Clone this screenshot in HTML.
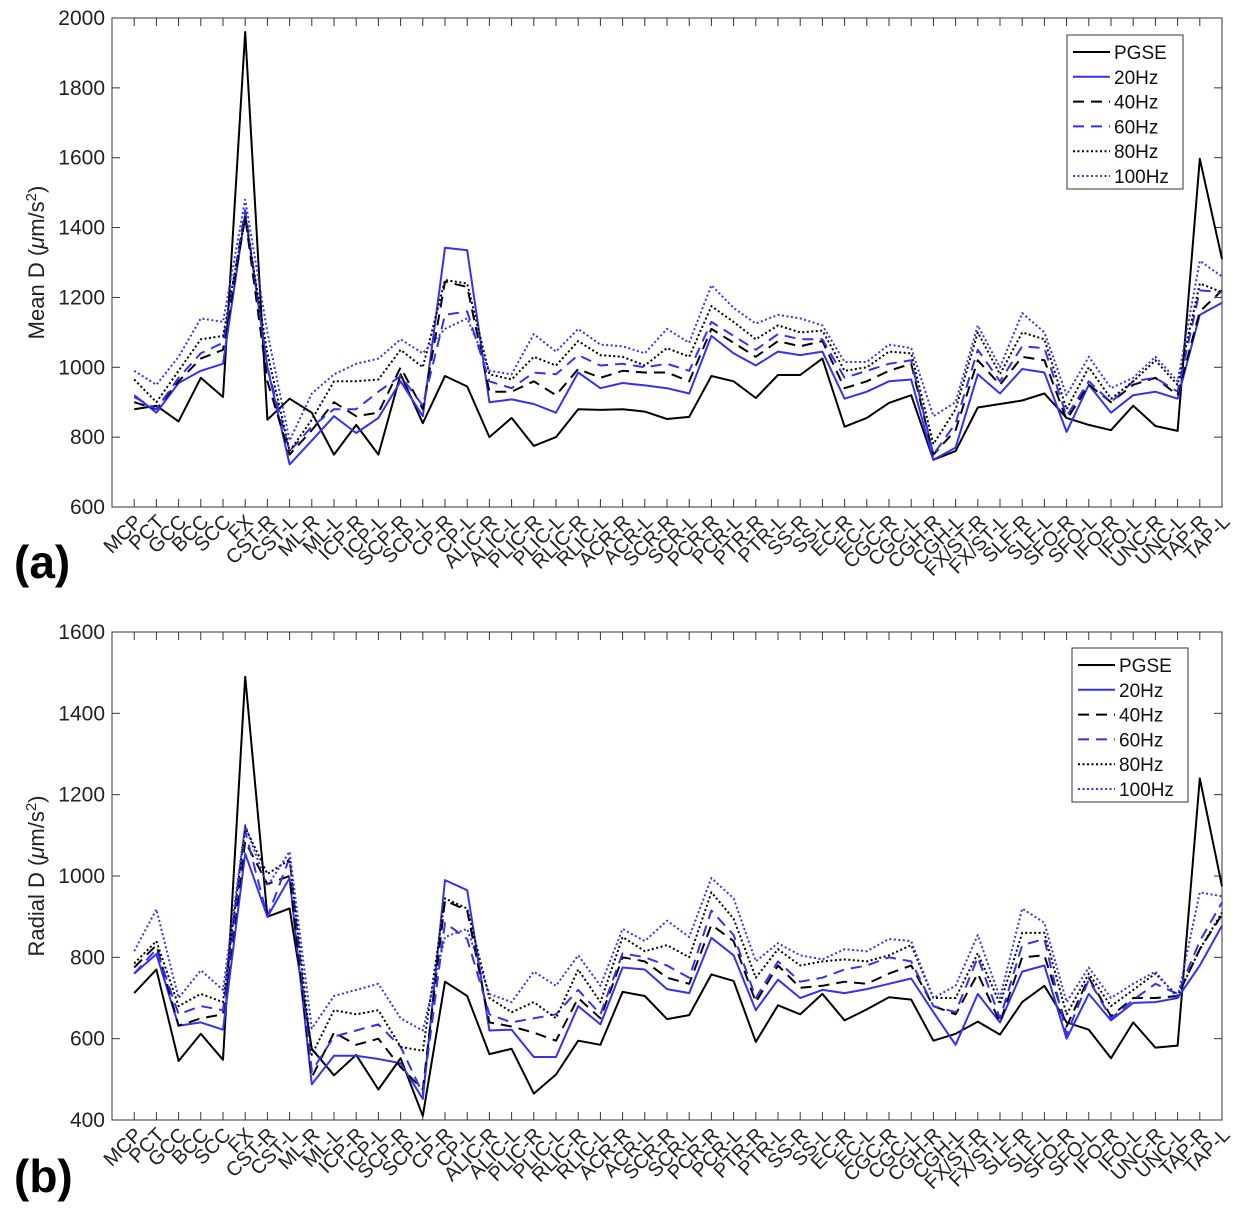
<!DOCTYPE html>
<html><head><meta charset="utf-8"><style>
body{margin:0;background:#fff;}
svg{display:block;font-family:"Liberation Sans",sans-serif;}
</style></head><body>
<svg id="chart" width="1248" height="1212" viewBox="0 0 1248 1212"></svg>
<script>
const categories=["MCP","PCT","GCC","BCC","SCC","FX","CST-R","CST-L","ML-R","ML-L","ICP-R","ICP-L","SCP-R","SCP-L","CP-R","CP-L","ALIC-R","ALIC-L","PLIC-R","PLIC-L","RLIC-R","RLIC-L","ACR-R","ACR-L","SCR-R","SCR-L","PCR-R","PCR-L","PTR-R","PTR-L","SS-R","SS-L","EC-R","EC-L","CGC-R","CGC-L","CGH-R","CGH-L","FX/ST-R","FX/ST-L","SLF-R","SLF-L","SFO-R","SFO-L","IFO-R","IFO-L","UNC-R","UNC-L","TAP-R","TAP-L"];
const seriesNames=["PGSE","20Hz","40Hz","60Hz","80Hz","100Hz"];
const ticksA=[600,800,1000,1200,1400,1600,1800,2000];
const ticksB=[400,600,800,1000,1200,1400,1600];
const meanPGSE=[880,890,845,970,915,1960,850,910,870,750,835,750,980,840,975,945,800,855,775,800,880,878,880,873,852,858,975,960,912,978,978,1025,830,855,898,920,735,760,885,895,905,925,855,835,820,890,832,818,1597,1310];
const mean20=[920,870,955,990,1010,1440,1000,722,790,860,812,855,960,860,1342,1335,900,908,895,870,985,940,955,948,940,925,1090,1040,1005,1045,1035,1045,910,930,960,965,735,770,980,925,995,985,815,950,870,920,930,910,1150,1185];
const mean40=[900,880,960,1025,1050,1430,960,750,820,900,860,870,1000,880,1245,1230,930,930,960,920,995,970,990,985,985,960,1110,1070,1030,1075,1060,1075,940,960,990,1010,750,820,1020,950,1030,1020,850,950,900,950,970,920,1160,1220];
const mean60=[915,880,970,1040,1070,1450,1000,760,830,880,880,930,975,890,1150,1160,960,940,985,980,1035,1005,1010,1000,1010,990,1130,1090,1050,1095,1080,1080,970,990,1010,1020,750,840,1050,960,1060,1055,860,960,900,960,970,930,1220,1215];
const mean80=[965,900,990,1080,1090,1430,1040,760,850,960,960,965,1050,1000,1250,1240,980,965,1030,1005,1075,1035,1030,1005,1055,1030,1175,1130,1080,1120,1100,1105,990,1000,1045,1040,780,880,1100,980,1100,1080,880,1000,910,960,1020,950,1240,1215];
const mean100=[990,950,1030,1140,1130,1480,1100,790,925,980,1010,1025,1080,1040,1110,1140,990,980,1095,1045,1110,1065,1060,1040,1110,1070,1235,1170,1125,1150,1140,1120,1015,1015,1065,1055,860,900,1120,1000,1155,1100,920,1030,940,970,1030,960,1305,1260];
const radPGSE=[712,770,545,612,548,1490,900,920,575,510,560,475,552,410,740,705,562,575,465,512,595,585,715,705,648,658,758,742,592,682,660,710,645,672,702,696,595,612,642,610,690,730,640,622,552,640,578,583,1240,975];
const rad20=[760,808,632,640,622,1055,900,995,488,558,558,550,540,452,990,965,620,622,555,555,680,635,775,770,722,712,848,805,670,745,700,720,712,722,735,748,665,585,710,640,765,780,600,710,645,688,690,700,780,878];
const rad40=[775,830,632,650,660,1085,980,1000,505,615,585,600,530,475,940,915,640,630,615,595,700,650,800,790,750,735,880,840,690,780,725,730,740,735,760,780,680,660,760,640,800,805,630,750,655,700,700,705,820,905];
const rad60=[760,820,660,680,670,1110,900,1045,520,605,620,635,580,465,885,845,660,640,650,660,720,660,810,800,780,750,915,855,700,790,740,750,770,780,800,790,680,665,800,650,830,845,610,745,650,695,735,710,840,935];
const rad80=[785,840,680,710,690,1120,1005,1040,560,670,660,670,580,570,945,920,700,665,690,650,770,690,850,815,830,800,960,895,750,820,780,790,795,790,805,830,700,700,810,685,860,860,660,760,680,720,760,705,820,910];
const rad100=[815,918,700,768,720,1125,975,1060,625,705,720,735,650,620,850,870,710,690,765,730,805,730,870,840,890,850,995,945,790,835,805,795,820,815,845,840,700,730,855,700,920,885,690,775,700,735,765,700,960,950];

const NS="http://www.w3.org/2000/svg";
const svg=document.getElementById('chart');
const BLUE="#3232f0";
const styles=[{c:"#000",d:""},{c:BLUE,d:""},{c:"#000",d:"11,7"},{c:BLUE,d:"11,7"},{c:"#000",d:"2,2.5"},{c:BLUE,d:"2,2.5"}];
function mk(tag,attrs,parent){const e=document.createElementNS(NS,tag);for(const k in attrs)e.setAttribute(k,attrs[k]);(parent||svg).appendChild(e);return e;}

function panel(p){
  const g=mk('g',{});
  
  
  const L=112,R=1222,T=p.top,B=p.bottom;
  const xS=i=>L+(i+1)*(R-L)/(categories.length);
  const yS=v=>B-(v-p.min)/(p.max-p.min)*(B-T);
  const box=mk('rect',{x:L,y:T,width:R-L,height:B-T,fill:'none',stroke:'#333','stroke-width':1},g);
  
  
  p.ticks.forEach(t=>{
    const y=yS(t);
    mk('line',{x1:L,x2:L+8,y1:y,y2:y,stroke:'#333'},g);
    mk('line',{x1:R,x2:R-8,y1:y,y2:y,stroke:'#333'},g);
    const tx=mk('text',{x:L-7,y:y+7,'text-anchor':'end','font-size':21,fill:'#222'},g);
    tx.textContent=t;
    
    
  });
  categories.forEach((c,i)=>{
    const x=xS(i);
    mk('line',{x1:x,x2:x,y1:B,y2:B-8,stroke:'#333'},g);
    mk('line',{x1:x,x2:x,y1:T,y2:T+8,stroke:'#333'},g);
    const tx=mk('text',{x:x+9,y:B+16,'text-anchor':'end','font-size':20,fill:'#222',transform:`rotate(-45 ${x+9} ${B+16})`},g);
    tx.textContent=c;
    
    
  });
  p.series.forEach((s,k)=>{
    const pts=s.map((v,i)=>xS(i).toFixed(1)+','+yS(v).toFixed(1)).join(' ');
    const pl=mk('polyline',{points:pts,fill:'none',stroke:styles[k].c,'stroke-width':2,'stroke-dasharray':styles[k].d,'stroke-linejoin':'round'},g);
    
    
  });
  const yl=mk('text',{x:44,y:(T+B)/2,'text-anchor':'middle','font-size':22,fill:'#222',transform:`rotate(-90 44 ${(T+B)/2})`},g);
  yl.innerHTML=p.ylabel+' (<tspan font-style="italic">μ</tspan>m/s<tspan baseline-shift="super" font-size="15">2</tspan>)';
  
  
  const lg=mk('g',{},g);
  
  
  mk('rect',{x:p.lx,y:p.ly,width:116,height:154,fill:'#fff',stroke:'#333'},lg);
  seriesNames.forEach((n,k)=>{
    const y=p.ly+17+k*24.8;
    mk('line',{x1:p.lx+6,x2:p.lx+43,y1:y,y2:y,stroke:styles[k].c,'stroke-width':2,'stroke-dasharray':styles[k].d},lg);
    const t=mk('text',{x:p.lx+47,y:y+7,'font-size':19,fill:'#111'},lg);
    t.textContent=n;
    
    
  });
  const pl=mk('text',{x:14,y:p.labY,'font-size':46,'font-weight':'bold',fill:'#000'},g);
  pl.textContent=p.label;
  
  
}
panel({name:'panel-a-mean-d',top:18,bottom:507,min:600,max:2000,ticks:ticksA,series:[meanPGSE,mean20,mean40,mean60,mean80,mean100],ylabel:'Mean D',lx:1067,ly:35,label:'(a)',labY:578});
panel({name:'panel-b-radial-d',top:632,bottom:1120,min:400,max:1600,ticks:ticksB,series:[radPGSE,rad20,rad40,rad60,rad80,rad100],ylabel:'Radial D',lx:1072,ly:648,label:'(b)',labY:1192});
</script>
</body></html>
